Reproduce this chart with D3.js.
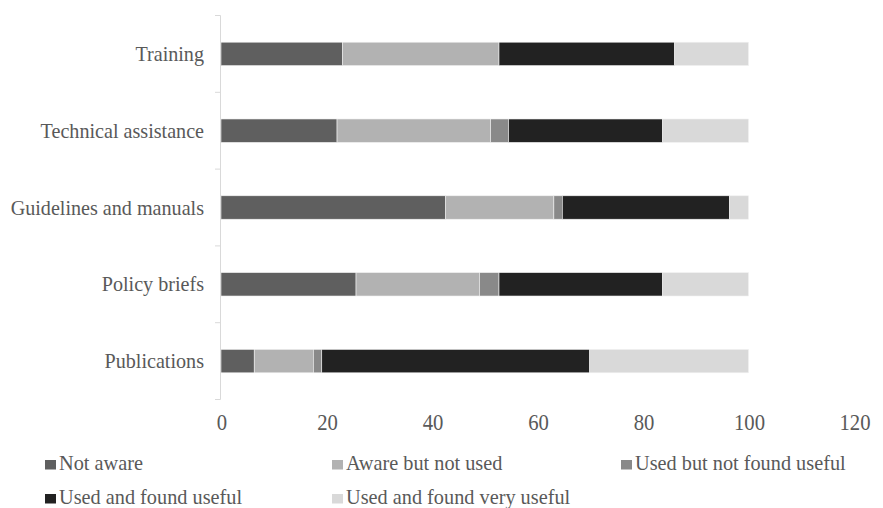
<!DOCTYPE html>
<html>
<head>
<meta charset="utf-8">
<script src="https://cdn.jsdelivr.net/npm/d3@7/dist/d3.min.js"></script>
<style>
html,body{margin:0;padding:0;background:#fff;}
svg{display:block;}
</style>
</head>
<body>
<svg id="chart" width="883" height="508"></svg>
<script>
const categories = ["Training","Technical assistance","Guidelines and manuals","Policy briefs","Publications"];
const seriesNames = ["Not aware","Aware but not used","Used but not found useful","Used and found useful","Used and found very useful"];
const notAware      = [23.0, 22.0, 42.6, 25.6, 6.3];
const awareNotUsed  = [29.7, 29.1, 20.5, 23.4, 11.2];
const usedNotUseful = [0.0, 3.4, 1.6, 3.7, 1.6];
const usedUseful    = [33.3, 29.2, 31.7, 31.0, 50.8];
const usedVeryUseful= [14.0, 16.3, 3.6, 16.3, 30.1];
const xTicks = [0,20,40,60,80,100,120];
const colors = ["#5f5f5f","#b2b2b2","#898989","#222222","#d9d9d9"];

const FONT = "Liberation Serif";
const TEXT = "#595959";

const seriesValues = [notAware, awareNotUsed, usedNotUseful, usedUseful, usedVeryUseful];
const table = categories.map((c,i)=>{
  const row = {category:c};
  seriesNames.forEach((s,j)=>row[s]=seriesValues[j][i]);
  return row;
});

const svg = d3.select("#chart");
const x = d3.scaleLinear().domain([0,120]).range([221,854]);
const y = d3.scaleBand().domain(categories).range([15.5,399.5]).paddingInner(0.695).paddingOuter(0.3475);
const color = d3.scaleOrdinal().domain(seriesNames).range(colors);

const stack = d3.stack().keys(seriesNames)(table);

svg.append("g").selectAll("g").data(stack).join("g")
  .attr("fill", d=>color(d.key))
  .selectAll("rect").data(d=>d).join("rect")
  .attr("x", d=>x(d[0]))
  .attr("y", d=>y(d.data.category))
  .attr("width", d=>Math.max(0, x(d[1])-x(d[0])))
  .attr("height", y.bandwidth())
  .attr("stroke","#f2f2f2").attr("stroke-width",0.6);

// y axis line and ticks between categories
const yAxis = svg.append("g");
yAxis.append("line").attr("x1",220.5).attr("x2",220.5).attr("y1",15.5).attr("y2",399.5)
  .attr("stroke","#d9d9d9").attr("stroke-width",1);
const bounds = [15.5].concat(categories.map(c=>y(c)+y.bandwidth()+y.step()*y.paddingInner()/2));
yAxis.selectAll("line.tk").data(bounds).join("line").attr("class","tk")
  .attr("x1",215).attr("x2",220.5).attr("y1",d=>d).attr("y2",d=>d)
  .attr("stroke","#d9d9d9").attr("stroke-width",1);

// category labels
svg.append("g").selectAll("text").data(categories).join("text")
  .attr("transform", d=>`translate(204,${y(d)+y.bandwidth()/2+7}) scale(0.915,1)`)
  .attr("text-anchor","end").attr("font-family",FONT).attr("fill",TEXT)
  .attr("font-size","22px").text(d=>d);

// x tick labels
svg.append("g").selectAll("text").data(xTicks).join("text")
  .attr("transform", d=>`translate(${x(d)+1},430) scale(0.9,1)`)
  .attr("text-anchor","middle").attr("font-family",FONT).attr("fill",TEXT)
  .attr("font-size","23px").text(d=>d);

// legend
const legendPos = [[45,460],[332,460],[621,460],[45,494],[332,494]];
const lg = svg.append("g").selectAll("g").data(seriesNames).join("g")
  .attr("transform",(d,i)=>`translate(${legendPos[i][0]},${legendPos[i][1]})`);
lg.append("rect").attr("width",11).attr("height",9.5).attr("fill",d=>color(d));
lg.append("text").attr("transform","translate(14,9.5)")
  .attr("font-family",FONT).attr("fill",TEXT)
  .attr("font-size","20.3px").text(d=>d);
</script>
</body>
</html>
